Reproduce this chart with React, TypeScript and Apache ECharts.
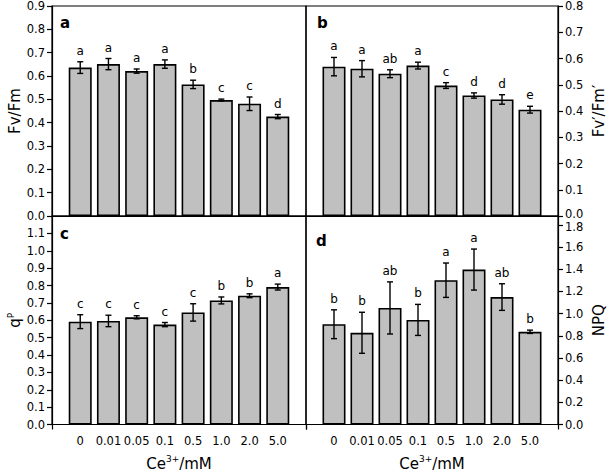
import React, { useEffect, useRef } from "react";
import * as echarts from "echarts";

const categories = ["0", "0.01", "0.05", "0.1", "0.5", "1.0", "2.0", "5.0"];

const fvfm = [0.636, 0.651, 0.621, 0.651, 0.564, 0.497, 0.481, 0.426];
const fvfmErr = [0.025, 0.024, 0.009, 0.018, 0.018, 0.004, 0.029, 0.009];
const fvfmSig = ["a", "a", "a", "a", "b", "c", "c", "d"];

const fvfmP = [0.569, 0.561, 0.542, 0.573, 0.497, 0.459, 0.444, 0.405];
const fvfmPErr = [0.035, 0.031, 0.015, 0.013, 0.011, 0.01, 0.018, 0.013];
const fvfmPSig = ["a", "a", "ab", "a", "c", "d", "d", "e"];

const qp = [0.592, 0.596, 0.617, 0.575, 0.645, 0.714, 0.741, 0.791];
const qpErr = [0.04, 0.033, 0.009, 0.012, 0.05, 0.02, 0.011, 0.017];
const qpSig = ["c", "c", "c", "c", "c", "b", "b", "a"];

const npq = [0.904, 0.827, 1.051, 0.943, 1.301, 1.397, 1.149, 0.836];
const npqErr = [0.13, 0.185, 0.235, 0.14, 0.155, 0.185, 0.12, 0.015];
const npqSig = ["b", "b", "ab", "b", "a", "a", "ab", "b"];

const panelLetters = ["a", "b", "c", "d"];

const FONT = "DejaVu Sans";
const xData = ["", ...categories, " "];

function makeSeries(idx: number, values: number[], errs: number[], sig: string[]) {
  return [
    {
      type: "bar",
      xAxisIndex: idx,
      yAxisIndex: idx,
      data: values.map((v, i) => [i + 1, v]),
      barWidth: 23,
      itemStyle: { color: "#c0c0c0", borderColor: "#000", borderWidth: 1.6 },
      silent: true,
    },
    {
      type: "custom",
      xAxisIndex: idx,
      yAxisIndex: idx,
      data: values.map((v, i) => [i + 1, v, errs[i]]),
      z: 10,
      silent: true,
      renderItem: (params: any, api: any) => {
        const x = api.value(0);
        const v = api.value(1);
        const e = api.value(2);
        const top = api.coord([x, v + e]);
        const bot = api.coord([x, v - e]);
        const w = 3;
        const ls = { stroke: "#000", lineWidth: 1.4 };
        return {
          type: "group",
          children: [
            { type: "line", shape: { x1: top[0], y1: top[1], x2: bot[0], y2: bot[1] }, style: ls },
            { type: "line", shape: { x1: top[0] - w, y1: top[1], x2: top[0] + w, y2: top[1] }, style: ls },
            { type: "line", shape: { x1: bot[0] - w, y1: bot[1], x2: bot[0] + w, y2: bot[1] }, style: ls },
            {
              type: "text",
              x: top[0],
              y: top[1] - 5,
              style: {
                text: sig[params.dataIndex],
                textAlign: "center",
                textVerticalAlign: "bottom",
                align: "center",
                verticalAlign: "bottom",
                fontSize: 12,
                fontFamily: FONT,
                fill: "#000",
              },
            },
          ],
        };
      },
    },
  ];
}

export default function App() {
  const ref = useRef<HTMLDivElement>(null);

  useEffect(() => {
    if (!ref.current) return;
    const chart = echarts.init(ref.current, undefined, { renderer: "svg" });

    const gridBase = { show: true, borderColor: "#000", borderWidth: 1.2, backgroundColor: "transparent" };
    const grids = [
      { left: 52, top: 5, width: 254, height: 211 },
      { left: 306, top: 5, width: 252, height: 211 },
      { left: 52, top: 216, width: 254, height: 209 },
      { left: 306, top: 216, width: 252, height: 209 },
    ].map((g) => ({ ...g, ...gridBase }));

    const axisLine = { show: true, lineStyle: { color: "#000", width: 1.2 } };

    const xAxes = [0, 1, 2, 3].map((i) => {
      const bottom = i >= 2;
      return {
        type: "category",
        gridIndex: i,
        data: xData,
        boundaryGap: false,
        axisLine,
        axisTick: {
          show: bottom,
          length: 5,
          interval: (idx: number) => idx === 0 || idx === xData.length - 1,
          lineStyle: { color: "#000", width: 1.2 },
        },
        axisLabel: {
          show: bottom,
          interval: 0,
          fontSize: 11.5,
          fontFamily: FONT,
          color: "#000",
          margin: 10,
        },
        splitLine: { show: false },
        name: bottom ? "Ce{sup|3+}/mM" : "",
        nameLocation: "middle",
        nameGap: 30,
        nameTextStyle: {
          fontSize: 15,
          fontFamily: FONT,
          color: "#000",
          rich: {
            sup: { fontSize: 9, fontFamily: FONT, color: "#000", verticalAlign: "top", lineHeight: 18 },
          },
        },
      };
    });

    const yCfg = [
      { pos: "left", max: 0.9, interval: 0.1, name: "Fv/Fm", hideMax: false },
      { pos: "right", max: 0.8, interval: 0.1, name: "Fv′/Fm′", hideMax: false },
      { pos: "left", max: 1.2, interval: 0.1, name: "q{sup|P}", hideMax: true },
      { pos: "right", max: 1.88, interval: 0.2, name: "NPQ", hideMax: true },
    ];

    const labelRich = {
      up: { fontSize: 11.5, fontFamily: FONT, color: "#000", lineHeight: 9, padding: [0, 0, 4, 0] },
      down: { fontSize: 11.5, fontFamily: FONT, color: "#000", lineHeight: 9, padding: [4, 0, 0, 0] },
    };

    const yAxes = yCfg.map((c, i) => ({
      type: "value",
      gridIndex: i,
      position: c.pos,
      min: 0,
      max: c.max,
      interval: c.interval,
      axisLine,
      axisTick: { show: true, length: 5, inside: false, lineStyle: { color: "#000", width: 1.2 } },
      axisLabel: {
        fontSize: 11.5,
        lineHeight: 9,
        fontFamily: FONT,
        color: "#000",
        margin: 7,
        showMaxLabel: !c.hideMax,
        rich: labelRich,
        formatter: (v: number) => {
          const s = v.toFixed(1);
          if (i === 1 && v === 0) return "{up|" + s + "}";
          if (i === 3 && Math.abs(v - 1.8) < 1e-6) return "{down|" + s + "}";
          return s;
        },
      },
      splitLine: { show: false },
      name: c.name,
      nameLocation: "middle",
      nameGap: c.pos === "left" ? 27 : 33,
      nameTextStyle: {
        fontSize: 15,
        fontFamily: FONT,
        color: "#000",
        rich: {
          sup: { fontSize: 9, fontFamily: FONT, color: "#000", verticalAlign: "top", lineHeight: 18 },
        },
      },
    }));

    const letterPos = [
      [60, 30],
      [317, 30],
      [60, 241],
      [316, 248],
    ];

    chart.setOption({
      animation: false,
      backgroundColor: "#fff",
      grid: grids,
      xAxis: xAxes,
      yAxis: yAxes,
      series: [
        ...makeSeries(0, fvfm, fvfmErr, fvfmSig),
        ...makeSeries(1, fvfmP, fvfmPErr, fvfmPSig),
        ...makeSeries(2, qp, qpErr, qpSig),
        ...makeSeries(3, npq, npqErr, npqSig),
      ],
      graphic: panelLetters.map((t, i) => ({
        type: "text",
        x: letterPos[i][0],
        y: letterPos[i][1],
        style: {
          text: t,
          fontSize: 15,
          fontWeight: "bold",
          fontFamily: FONT,
          fill: "#000",
          textVerticalAlign: "bottom",
          verticalAlign: "bottom",
        },
      })),
    });

    return () => chart.dispose();
  }, []);

  return (
    <div
      ref={ref}
      style={{ position: "fixed", left: 0, top: 0, width: 609, height: 472, background: "#fff" }}
    />
  );
}
